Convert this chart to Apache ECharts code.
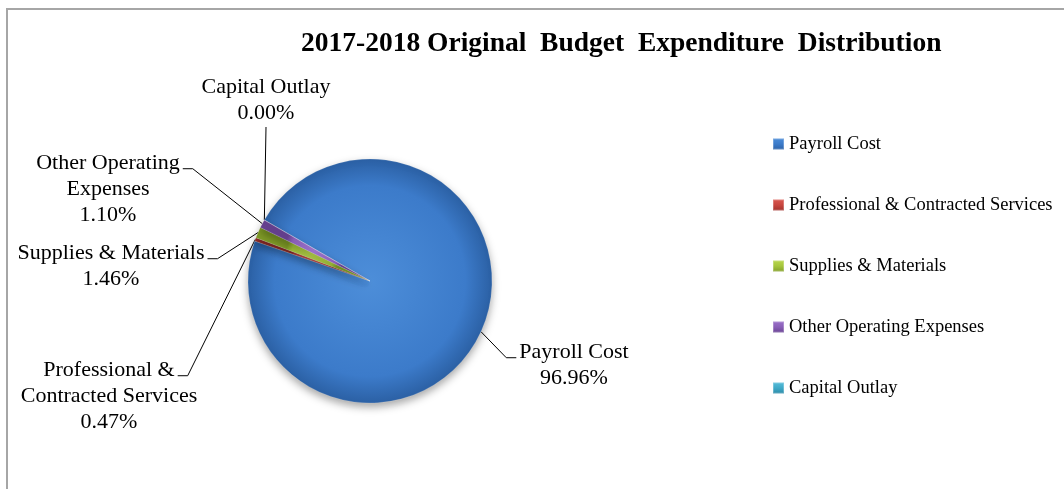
<!DOCTYPE html>
<html>
<head>
<meta charset="utf-8">
<script src="https://cdn.jsdelivr.net/npm/echarts@6/dist/echarts.min.js"></script>
<style>
  html, body { margin: 0; padding: 0; background: #ffffff; }
  #chart { width: 1064px; height: 489px; }
</style>
</head>
<body>
<div id="chart"></div>
<script>
// 2017-2018 original budget, share of expenditure by category (percent)
const categories = [
  'Payroll Cost',
  'Professional & Contracted Services',
  'Supplies & Materials',
  'Other Operating Expenses',
  'Capital Outlay'
];
const shares = [96.96, 0.47, 1.46, 1.10, 0.00];
// how each slice label wraps
const labelText = [
  'Payroll Cost',
  'Professional &\nContracted Services',
  'Supplies & Materials',
  'Other Operating\nExpenses',
  'Capital Outlay'
];

const FONT = '"Liberation Serif", "Times New Roman", serif';
const LABEL_SIZE = 22;
const LABEL_LINE_H = 26;

// slice palette: [light, base, dark]
const palette = [
  ['#4d8ed9', '#3c7bca', '#2b60a4'],
  ['#dc5a52', '#c8463f', '#9c302b'],
  ['#bcd94f', '#a6c63c', '#7f9a27'],
  ['#9d74cc', '#8a5fb8', '#65418e'],
  ['#5cc0dc', '#3fa9c8', '#2b87a3']
];

// label placement: centre x, top y, and the side the leader line leaves from
const labelPlacement = [
  [574, 339, 'left'],
  [109, 357, 'right'],
  [111, 240, 'right'],
  [108, 150, 'right'],
  [266, 74, 'bottom']
];

const measure = document.createElement('canvas').getContext('2d');
measure.font = LABEL_SIZE + 'px ' + FONT;

function sliceFill(i) {
  const c = palette[i];
  return {
    type: 'radial', x: 0.5, y: 0.5, r: 0.5,
    colorStops: [
      { offset: 0, color: c[0] },
      { offset: 0.78, color: c[1] },
      { offset: 1, color: c[2] }
    ]
  };
}

function legendFill(i) {
  const c = palette[i];
  return {
    type: 'linear', x: 0, y: 0, x2: 0, y2: 1,
    colorStops: [
      { offset: 0, color: c[0] },
      { offset: 0.5, color: c[1] },
      { offset: 1, color: c[2] }
    ]
  };
}

const chart = echarts.init(document.getElementById('chart'), null, { renderer: 'canvas' });

chart.setOption({
  animation: false,
  backgroundColor: '#ffffff',
  graphic: [{
    type: 'rect',
    shape: { x: 7, y: 9, width: 1200, height: 600 },
    style: { fill: 'none', stroke: '#a6a6a6', lineWidth: 2 },
    silent: true
  }],
  title: {
    text: '2017-2018 Original  Budget  Expenditure  Distribution',
    left: 296,
    top: 25,
    textStyle: { fontFamily: FONT, fontSize: 27.5, fontWeight: 'bold', color: '#000000' }
  },
  legend: {
    orient: 'vertical',
    left: 767,
    top: 129,
    itemWidth: 11,
    itemHeight: 11,
    itemGap: 41,
    icon: 'rect',
    selectedMode: false,
    textStyle: { fontFamily: FONT, fontSize: 18.5, color: '#000000', lineHeight: 20 },
    data: categories.map((name, i) => ({ name: name, itemStyle: { color: legendFill(i) } }))
  },
  series: [{
    type: 'pie',
    center: [370, 281],
    radius: 122,
    startAngle: 150,
    clockwise: true,
    avoidLabelOverlap: false,
    emphasis: { disabled: true },
    itemStyle: {
      borderColor: 'rgba(255,255,255,0.25)',
      borderWidth: 0.6,
      shadowColor: 'rgba(0,0,0,0.35)',
      shadowBlur: 9,
      shadowOffsetY: 4
    },
    label: {
      show: true,
      position: 'outside',
      fontFamily: FONT,
      fontSize: LABEL_SIZE,
      lineHeight: LABEL_LINE_H,
      color: '#000000',
      align: 'center',
      formatter: (p) => labelText[p.dataIndex] + '\n' + shares[p.dataIndex].toFixed(2) + '%'
    },
    labelLine: {
      show: true,
      length: 10,
      length2: 10,
      lineStyle: { color: '#000000', width: 1 }
    },
    labelLayout: function (p) {
      const place = labelPlacement[p.dataIndex];
      const cx = place[0], top = place[1], side = place[2];
      const firstLine = labelText[p.dataIndex].split('\n')[0];
      const w1 = measure.measureText(firstLine).width;
      const h = p.labelRect.height;
      const edge = p.labelLinePoints ? p.labelLinePoints[0].slice() : [cx, top];
      const ay = top + LABEL_LINE_H * 0.72;
      let pts;
      if (side === 'right') {
        const x2 = cx + w1 / 2 + 3;
        pts = [edge, [x2 + 10, ay], [x2, ay]];
      } else if (side === 'left') {
        const x2 = cx - w1 / 2 - 3;
        pts = [edge, [x2 - 10, ay], [x2, ay]];
      } else {
        const b = [cx, top + h + 1];
        pts = [edge, b, b];
      }
      return { x: cx, y: top, align: 'center', verticalAlign: 'top', labelLinePoints: pts };
    },
    data: categories.map((name, i) => ({
      name: name,
      value: shares[i],
      itemStyle: { color: sliceFill(i) }
    }))
  }]
});
</script>
</body>
</html>
